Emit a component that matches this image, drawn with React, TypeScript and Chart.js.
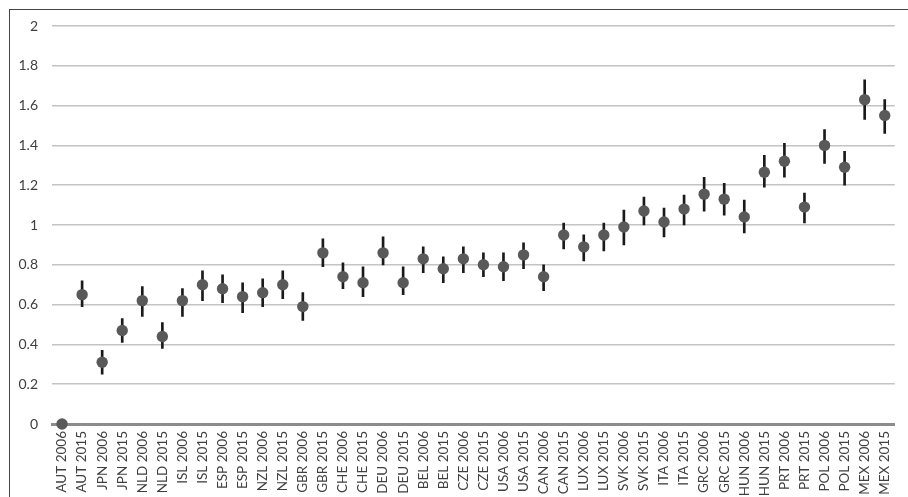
import React, { useEffect, useRef } from "react";
import { Chart, registerables } from "chart.js";

Chart.register(...registerables);

const categories = [
  "AUT 2006", "AUT 2015", "JPN 2006", "JPN 2015", "NLD 2006", "NLD 2015",
  "ISL 2006", "ISL 2015", "ESP 2006", "ESP 2015", "NZL 2006", "NZL 2015",
  "GBR 2006", "GBR 2015", "CHE 2006", "CHE 2015", "DEU 2006", "DEU 2015",
  "BEL 2006", "BEL 2015", "CZE 2006", "CZE 2015", "USA 2006", "USA 2015",
  "CAN 2006", "CAN 2015", "LUX 2006", "LUX 2015", "SVK 2006", "SVK 2015",
  "ITA 2006", "ITA 2015", "GRC 2006", "GRC 2015", "HUN 2006", "HUN 2015",
  "PRT 2006", "PRT 2015", "POL 2006", "POL 2015", "MEX 2006", "MEX 2015",
];

const values = [
  0, 0.65, 0.31, 0.47, 0.62, 0.44,
  0.62, 0.70, 0.68, 0.64, 0.66, 0.70,
  0.59, 0.86, 0.74, 0.71, 0.86, 0.71,
  0.83, 0.78, 0.83, 0.80, 0.79, 0.85,
  0.74, 0.95, 0.89, 0.95, 0.99, 1.07,
  1.015, 1.08, 1.155, 1.13, 1.04, 1.265,
  1.32, 1.09, 1.40, 1.29, 1.63, 1.55,
];

const lows = [
  null, 0.59, 0.25, 0.41, 0.54, 0.38,
  0.54, 0.62, 0.61, 0.56, 0.59, 0.63,
  0.52, 0.79, 0.68, 0.64, 0.80, 0.65,
  0.76, 0.71, 0.76, 0.74, 0.72, 0.78,
  0.67, 0.88, 0.82, 0.87, 0.90, 1.0,
  0.94, 1.0, 1.07, 1.05, 0.96, 1.19,
  1.24, 1.01, 1.31, 1.20, 1.53, 1.46,
];

const highs = [
  null, 0.72, 0.37, 0.53, 0.69, 0.51,
  0.68, 0.77, 0.75, 0.71, 0.73, 0.77,
  0.66, 0.93, 0.81, 0.79, 0.94, 0.79,
  0.89, 0.84, 0.89, 0.86, 0.86, 0.91,
  0.80, 1.01, 0.95, 1.01, 1.075, 1.14,
  1.085, 1.15, 1.24, 1.21, 1.125, 1.35,
  1.41, 1.16, 1.48, 1.37, 1.73, 1.63,
];

const yTicks = [0, 0.2, 0.4, 0.6, 0.8, 1, 1.2, 1.4, 1.6, 1.8, 2];

export default function App() {
  const ref = useRef<HTMLCanvasElement | null>(null);

  useEffect(() => {
    if (!ref.current) return;
    const chart = new Chart(ref.current, {
      type: "bar",
      data: {
        labels: categories,
        datasets: [
          {
            type: "line",
            data: values,
            showLine: false,
            pointRadius: 5.7,
            pointHoverRadius: 5.7,
            pointBackgroundColor: "#595959",
            pointBorderColor: "#595959",
            pointBorderWidth: 0,
            order: 0,
            clip: false,
          } as any,
          {
            type: "bar",
            data: lows.map((l, i) => (l === null ? null : [l, highs[i] as number])),
            backgroundColor: "#1a1a1a",
            barThickness: 2,
            order: 1,
          } as any,
        ],
      },
      options: {
        animation: false,
        responsive: false,
        devicePixelRatio: 1,
        layout: { padding: { top: 26, right: 0, left: 0, bottom: 0 } },
        plugins: { legend: { display: false }, tooltip: { enabled: false } },
        scales: {
          x: {
            offset: true,
            grid: { display: false, drawTicks: false },
            border: { display: true, color: "#8c8c8c", width: 3 },
            ticks: {
              autoSkip: false,
              minRotation: 90,
              maxRotation: 90,
              padding: 7,
              color: "#404040",
              font: { family: "Lato", size: 13.5 },
            },
            afterFit: (s: any) => {
              s.height = 73;
            },
          },
          y: {
            min: 0,
            max: 2,
            afterBuildTicks: (s: any) => {
              s.ticks = yTicks.map((v) => ({ value: v }));
            },
            grid: { color: "#c4c4c4", lineWidth: 1.5, drawTicks: false },
            border: { display: false },
            ticks: {
              padding: 14,
              color: "#404040",
              font: { family: "Lato", size: 14 },
              callback: (v: any) => String(Number(Number(v).toFixed(1))),
            },
            afterFit: (s: any) => {
              s.width = 52;
            },
          },
        },
      },
    });
    return () => chart.destroy();
  }, []);

  return (
    <div style={{ position: "fixed", left: 0, top: 0, width: 908, height: 497, background: "#fff", overflow: "hidden" }}>
      <div
        style={{
          position: "absolute",
          left: 9,
          top: 9,
          width: 2000,
          height: 2000,
          borderLeft: "1.5px solid #444",
          borderTop: "1.5px solid #444",
        }}
      />
      <canvas ref={ref} width={908} height={497} style={{ position: "absolute", left: 0, top: 0, display: "block" }} />
    </div>
  );
}
